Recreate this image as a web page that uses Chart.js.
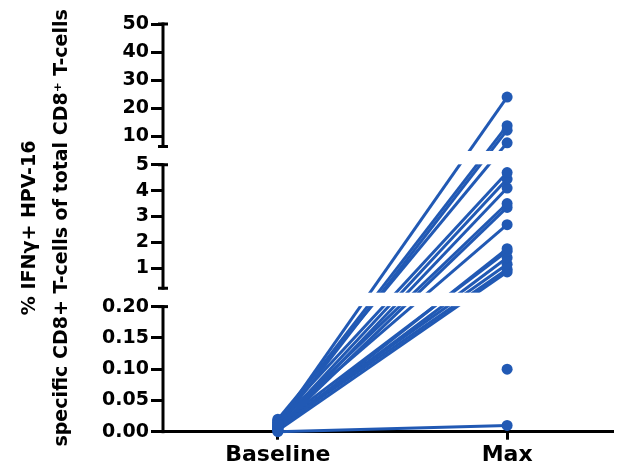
<!DOCTYPE html>
<html>
<head>
<meta charset="utf-8">
<script src="https://cdn.jsdelivr.net/npm/chart.js@4.4.0/dist/chart.umd.min.js"></script>
<style>
html,body{margin:0;padding:0;background:#fff;}
#wrap{width:619px;height:469px;}
</style>
</head>
<body>
<div id="wrap"><canvas id="c" width="619" height="469"></canvas></div>
<script>
// ---- data ----
const categories = ['Baseline', 'Max'];
const baselineValues = [0.012, 0.015, 0.008, 0.020, 0.018, 0.010, 0.005, 0.014, 0.006, 0.016, 0.003, 0.011, 0.004, 0.009, 0.007, 0.002, null, 0.000];
const maxValues      = [24, 13.8, 12.2, 7.7, 4.7, 4.45, 4.1, 3.5, 3.35, 2.68, 1.75, 1.65, 1.4, 1.15, 0.95, 0.85, 0.10, 0.01];
const yTickValues = [0, 0.05, 0.10, 0.15, 0.20, 1, 2, 3, 4, 5, 10, 20, 30, 40, 50];
const yAxisTitle = ['% IFNγ+ HPV-16', 'specific CD8+ T-cells of total CD8⁺ T-cells'];

// ---- broken-axis layout (value ranges -> fraction of plot height) ----
const SEGMENTS = [
  {min: 0,    max: 0.2, from: 0,      to: 0.3068},
  {min: 0.22, max: 5,   from: 0.352,  to: 0.6546},
  {min: 6.4,  max: 50,  from: 0.6996, to: 1}
];
const BLUE = '#2159b4';

class BrokenLinearScale extends Chart.LinearScale {
  determineDataLimits() { this.min = 0; this.max = 50; }
  buildTicks() { return yTickValues.map(v => ({value: v})); }
  valueToFraction(v) {
    const s = SEGMENTS;
    if (v <= s[0].min) return s[0].from;
    for (let i = 0; i < s.length; i++) {
      const g = s[i];
      if (v >= g.min && v <= g.max) return g.from + (v - g.min) / (g.max - g.min) * (g.to - g.from);
      if (i < s.length - 1 && v > g.max && v < s[i + 1].min) {
        const n = s[i + 1];
        return g.to + (v - g.max) / (n.min - g.max) * (n.from - g.to);
      }
    }
    return s[s.length - 1].to;
  }
  getPixelForValue(v) {
    return this.bottom - this.valueToFraction(v) * (this.bottom - this.top);
  }
  getValueForPixel(p) {
    const f = (this.bottom - p) / (this.bottom - this.top);
    for (const g of SEGMENTS) {
      if (f >= g.from && f <= g.to) return g.min + (f - g.from) / (g.to - g.from) * (g.max - g.min);
    }
    return NaN;
  }
}
BrokenLinearScale.id = 'brokenLinear';
BrokenLinearScale.defaults = Chart.LinearScale.defaults;
Chart.register(BrokenLinearScale);

const brokenAxisPlugin = {
  id: 'brokenAxis',
  afterDatasetsDraw(chart) {
    const y = chart.scales.y, ca = chart.chartArea, ctx = chart.ctx;
    ctx.save();
    ctx.fillStyle = '#fff';
    for (let i = 0; i < SEGMENTS.length - 1; i++) {
      const top = y.getPixelForValue(SEGMENTS[i + 1].min) + 4.5;
      const bot = y.getPixelForValue(SEGMENTS[i].max) - 0.5;
      ctx.fillRect(ca.left + 2, top, chart.width - ca.left, bot - top);
    }
    ctx.restore();
  },
  afterDraw(chart) {
    const y = chart.scales.y, ca = chart.chartArea, ctx = chart.ctx;
    const x0 = ca.left;
    ctx.save();
    ctx.strokeStyle = '#000';
    ctx.lineWidth = 3;
    ctx.lineCap = 'butt';
    SEGMENTS.forEach((g, i) => {
      const pTop = y.getPixelForValue(g.max);
      const pBot = y.getPixelForValue(g.min);
      ctx.beginPath();
      ctx.moveTo(x0, pTop - 1.5);
      ctx.lineTo(x0, pBot + 1.5);
      ctx.stroke();
      ctx.beginPath();
      ctx.moveTo(x0 - 5, pTop); ctx.lineTo(x0 + 5, pTop);
      if (i > 0) { ctx.moveTo(x0 - 5, pBot); ctx.lineTo(x0 + 5, pBot); }
      ctx.stroke();
    });
    ctx.restore();
  }
};

const datasets = maxValues.map((m, i) => ({
  data: [{x: 0, y: baselineValues[i]}, {x: 1, y: m}],
  borderColor: BLUE,
  backgroundColor: BLUE,
  pointBackgroundColor: BLUE,
  borderWidth: 3,
  pointRadius: 5.5,
  pointBorderWidth: 0,
  pointHoverRadius: 5.5,
  tension: 0,
  clip: false,
  spanGaps: false
}));

new Chart(document.getElementById('c'), {
  type: 'line',
  data: {datasets},
  plugins: [brokenAxisPlugin],
  options: {
    responsive: false,
    animation: false,
    devicePixelRatio: 1,
    layout: {padding: {top: 24, right: 4, left: 0, bottom: 0}},
    plugins: {legend: {display: false}, tooltip: {enabled: false}},
    events: [],
    scales: {
      x: {
        type: 'linear',
        min: -0.501,
        max: 1.464,
        afterBuildTicks: s => { s.ticks = categories.map((c, i) => ({value: i})); },
        afterFit: s => { s.height = 37.3; },
        ticks: {
          autoSkip: false,
          color: '#000',
          padding: 2,
          font: {family: 'DejaVu Sans', weight: 'bold', size: 22},
          callback: v => categories[v] !== undefined ? categories[v] : ''
        },
        grid: {drawOnChartArea: false, drawTicks: true, tickLength: 8, tickWidth: 3, tickColor: '#000', color: '#000'},
        border: {display: true, color: '#000', width: 3}
      },
      y: {
        type: 'brokenLinear',
        afterFit: s => { s.width = 163; },
        ticks: {
          autoSkip: false,
          color: '#000',
          padding: 2,
          font: {family: 'DejaVu Sans', weight: 'bold', size: 19},
          callback: v => v <= 0.2 ? Number(v).toFixed(2) : String(v)
        },
        grid: {drawOnChartArea: false, drawTicks: true, tickLength: 12, tickWidth: 3, tickColor: '#000', color: '#000'},
        border: {display: false},
        title: {
          display: true,
          text: yAxisTitle,
          color: '#000',
          font: {family: 'DejaVu Sans', weight: 'bold', size: 19, lineHeight: 1.684},
          padding: {top: 14, bottom: 0}
        }
      }
    }
  }
});
</script>
</body>
</html>
